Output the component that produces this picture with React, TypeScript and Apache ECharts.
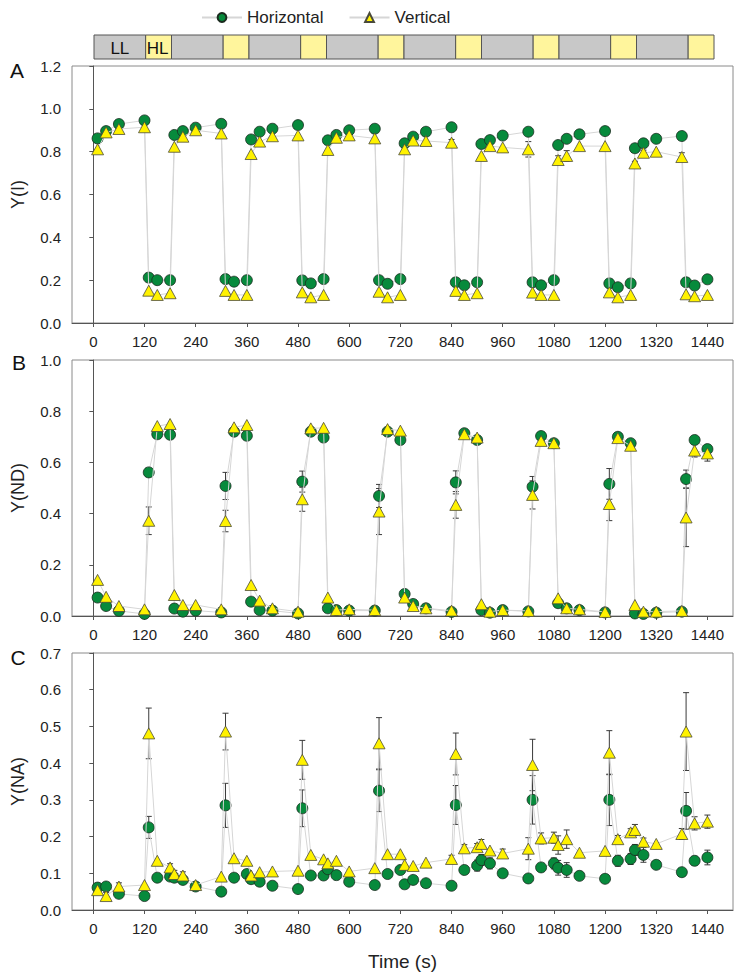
import React, { useEffect, useRef } from 'react';
import * as echarts from 'echarts';

// ---------- data ----------
const times = [
  10, 30, 60, 120, 130, 150, 180,
  190, 210, 240, 300, 310, 330, 360,
  370, 390, 420, 480, 490, 510, 540,
  550, 570, 600, 660, 670, 690, 720,
  730, 750, 780, 840, 850, 870, 900,
  910, 930, 960, 1020, 1030, 1050, 1080,
  1090, 1110, 1140, 1200, 1210, 1230, 1260,
  1270, 1290, 1320, 1380, 1390, 1410, 1440,
];
const timeTicks = [0, 120, 240, 360, 480, 600, 720, 840, 960, 1080, 1200, 1320, 1440];

// Panel A: Y(I)
const yIHorizontal = [
  0.862, 0.896, 0.929, 0.946, 0.212, 0.2, 0.2,
  0.878, 0.896, 0.912, 0.93, 0.205, 0.193, 0.2,
  0.857, 0.893, 0.907, 0.924, 0.199, 0.185, 0.205,
  0.853, 0.878, 0.9, 0.907, 0.2, 0.183, 0.205,
  0.839, 0.87, 0.893, 0.914, 0.19, 0.176, 0.19,
  0.836, 0.854, 0.875, 0.893, 0.19, 0.176, 0.2,
  0.831, 0.86, 0.881, 0.896, 0.185, 0.167, 0.185,
  0.816, 0.839, 0.86, 0.873, 0.19, 0.175, 0.204,
];
const yIVertical = [
  0.811, 0.89, 0.906, 0.914, 0.151, 0.131, 0.139,
  0.823, 0.87, 0.9, 0.885, 0.15, 0.131, 0.131,
  0.789, 0.847, 0.872, 0.876, 0.143, 0.12, 0.131,
  0.808, 0.865, 0.876, 0.862, 0.146, 0.12, 0.131,
  0.811, 0.852, 0.85, 0.842, 0.15, 0.131, 0.139,
  0.78, 0.826, 0.82, 0.811, 0.142, 0.131, 0.131,
  0.761, 0.78, 0.826, 0.826, 0.143, 0.12, 0.131,
  0.745, 0.795, 0.8, 0.775, 0.134, 0.125, 0.131,
];
const yIHorizontalErr = [
  0, 0, 0, 0, 0, 0, 0,
  0, 0, 0, 0, 0, 0, 0,
  0, 0, 0, 0, 0, 0, 0,
  0, 0, 0, 0, 0, 0, 0,
  0, 0, 0, 0, 0, 0, 0,
  0, 0, 0, 0, 0, 0, 0,
  0, 0.01, 0, 0, 0, 0, 0,
  0.015, 0.015, 0.01, 0, 0, 0, 0,
];
const yIVerticalErr = [
  0, 0, 0, 0, 0, 0, 0,
  0, 0, 0, 0, 0, 0, 0,
  0, 0, 0, 0, 0, 0, 0,
  0, 0, 0, 0, 0, 0, 0,
  0, 0, 0, 0.015, 0, 0, 0,
  0, 0.01, 0, 0.036, 0, 0, 0,
  0.02, 0.025, 0, 0, 0, 0, 0,
  0.01, 0.012, 0, 0.02, 0, 0, 0,
];

// Panel B: Y(ND)
const yNDHorizontal = [
  0.072, 0.039, 0.02, 0.008, 0.561, 0.71, 0.708,
  0.029, 0.017, 0.021, 0.014, 0.508, 0.72, 0.704,
  0.056, 0.023, 0.021, 0.01, 0.525, 0.72, 0.697,
  0.03, 0.023, 0.021, 0.021, 0.469, 0.72, 0.6875,
  0.086, 0.047, 0.03, 0.016, 0.522, 0.714, 0.6875,
  0.023, 0.013, 0.023, 0.018, 0.505, 0.703, 0.675,
  0.05, 0.03, 0.023, 0.014, 0.516, 0.7, 0.675,
  0.01, 0.008, 0.013, 0.017, 0.535, 0.6875, 0.652,
];
const yNDVertical = [
  0.141, 0.075, 0.039, 0.026, 0.372, 0.742, 0.75,
  0.082, 0.043, 0.043, 0.026, 0.371, 0.737, 0.746,
  0.121, 0.06, 0.03, 0.017, 0.456, 0.733, 0.735,
  0.072, 0.023, 0.026, 0.023, 0.408, 0.73, 0.724,
  0.072, 0.039, 0.03, 0.021, 0.434, 0.71, 0.697,
  0.046, 0.017, 0.023, 0.02, 0.473, 0.684, 0.675,
  0.069, 0.03, 0.026, 0.016, 0.4375, 0.695, 0.665,
  0.043, 0.017, 0.017, 0.02, 0.385, 0.646, 0.635,
];
const yNDHorizontalErr = [
  0, 0, 0, 0, 0.012, 0, 0,
  0, 0, 0, 0, 0.053, 0, 0,
  0, 0, 0, 0, 0.041, 0, 0,
  0, 0, 0, 0, 0.045, 0, 0,
  0, 0, 0, 0, 0.045, 0, 0,
  0, 0, 0, 0, 0.04, 0, 0,
  0, 0, 0, 0, 0.06, 0, 0,
  0, 0, 0, 0, 0.035, 0, 0.015,
];
const yNDVerticalErr = [
  0, 0, 0, 0, 0.054, 0, 0,
  0, 0, 0, 0, 0.042, 0, 0,
  0, 0, 0, 0, 0.047, 0, 0,
  0, 0, 0, 0, 0.09, 0, 0,
  0, 0, 0, 0, 0.052, 0, 0,
  0, 0, 0, 0, 0.055, 0, 0,
  0, 0, 0, 0, 0.065, 0, 0.015,
  0, 0, 0, 0, 0.114, 0.025, 0.03,
];

// Panel C: Y(NA)
const yNAHorizontal = [
  0.061, 0.064, 0.044, 0.038, 0.225, 0.088, 0.091,
  0.088, 0.082, 0.064, 0.05, 0.285, 0.088, 0.098,
  0.084, 0.077, 0.066, 0.057, 0.277, 0.094, 0.094,
  0.111, 0.095, 0.077, 0.068, 0.325, 0.098, 0.109,
  0.07, 0.082, 0.073, 0.066, 0.286, 0.109, 0.121,
  0.136, 0.127, 0.1, 0.086, 0.3, 0.116, 0.127,
  0.115, 0.109, 0.093, 0.085, 0.3, 0.134, 0.139,
  0.1635, 0.15, 0.123, 0.103, 0.27, 0.134, 0.143,
];
const yNAVertical = [
  0.054, 0.038, 0.064, 0.068, 0.481, 0.134, 0.116,
  0.098, 0.094, 0.068, 0.091, 0.486, 0.141, 0.134,
  0.094, 0.103, 0.105, 0.107, 0.409, 0.15, 0.138,
  0.127, 0.134, 0.105, 0.114, 0.454, 0.152, 0.152,
  0.123, 0.12, 0.129, 0.139, 0.425, 0.168, 0.171,
  0.18, 0.162, 0.154, 0.167, 0.395, 0.195, 0.197,
  0.177, 0.193, 0.156, 0.161, 0.4285, 0.193, 0.2115,
  0.218, 0.186, 0.18, 0.207, 0.486, 0.236, 0.2406,
];
const yNAHorizontalErr = [
  0, 0, 0, 0, 0.03, 0, 0,
  0, 0, 0, 0, 0.06, 0, 0,
  0, 0, 0, 0, 0.05, 0, 0,
  0, 0, 0, 0, 0.057, 0, 0,
  0, 0.01, 0, 0, 0.053, 0, 0.015,
  0.015, 0.015, 0, 0, 0.066, 0, 0.015,
  0.02, 0.02, 0.01, 0, 0.07, 0.015, 0.015,
  0.015, 0.02, 0.01, 0.01, 0.05, 0.012, 0.02,
];
const yNAVerticalErr = [
  0.01, 0.01, 0.01, 0, 0.069, 0, 0.01,
  0.01, 0.01, 0, 0, 0.05, 0, 0,
  0, 0, 0, 0, 0.053, 0, 0,
  0, 0, 0, 0, 0.07, 0, 0,
  0, 0, 0, 0.01, 0.057, 0.01, 0.01,
  0.012, 0, 0.012, 0.03, 0.07, 0.015, 0.015,
  0.025, 0.025, 0, 0, 0.06, 0.01, 0.01,
  0.015, 0.01, 0, 0.015, 0.106, 0.018, 0.018,
];

// Light regime bar
const phaseKinds = ['LL', 'HL', 'LL', 'HL', 'LL', 'HL', 'LL', 'HL', 'LL', 'HL', 'LL', 'HL', 'LL', 'HL', 'LL', 'HL'];
const phaseDurations = [120, 60, 120, 60, 120, 60, 120, 60, 120, 60, 120, 60, 120, 60, 120, 60];

const panelLetters = ['A', 'B', 'C'];
const yNames = ['Y(I)', 'Y(ND)', 'Y(NA)'];
const yMax = [1.2, 1.0, 0.7];
const yStep = [0.2, 0.2, 0.1];
const seriesNames = ['Horizontal', 'Vertical'];

const FONT = "'Liberation Sans', Arial, sans-serif";
const GREEN = '#078a3c';
const YELLOW = '#fff200';

export default function App() {
  const ref = useRef<HTMLDivElement>(null);
  useEffect(() => {
    if (!ref.current) return;
    const chart = echarts.init(ref.current, null, { renderer: 'svg' });

    const grids = [
      { left: 72, right: 8, top: 66, height: 257 },
      { left: 72, right: 8, top: 360, height: 256 },
      { left: 72, right: 8, top: 653, height: 257 },
    ];

    const panels = [
      { h: yIHorizontal, v: yIVertical, he: yIHorizontalErr, ve: yIVerticalErr },
      { h: yNDHorizontal, v: yNDVertical, he: yNDHorizontalErr, ve: yNDVerticalErr },
      { h: yNAHorizontal, v: yNAVertical, he: yNAHorizontalErr, ve: yNAVerticalErr },
    ];

    const errRender = (params: any, api: any) => {
      const x = api.value(0);
      const y = api.value(1);
      const e = api.value(2);
      const top = api.coord([x, y + e]);
      const bot = api.coord([x, y - e]);
      const w = 3;
      const style = { stroke: '#3a3a3a', lineWidth: 1 };
      return {
        type: 'group',
        children: [
          { type: 'line', shape: { x1: top[0], y1: top[1], x2: bot[0], y2: bot[1] }, style },
          { type: 'line', shape: { x1: top[0] - w, y1: top[1], x2: top[0] + w, y2: top[1] }, style },
          { type: 'line', shape: { x1: bot[0] - w, y1: bot[1], x2: bot[0] + w, y2: bot[1] }, style },
        ],
      };
    };

    const series: any[] = [];
    panels.forEach((p, i) => {
      const errData = (vals: number[], errs: number[]) =>
        times.map((t, k) => [t, vals[k], errs[k]]).filter((d) => d[2] > 0);
      series.push({
        type: 'custom',
        name: 'errH' + i,
        xAxisIndex: i,
        yAxisIndex: i,
        z: 1,
        renderItem: errRender,
        encode: { x: 0, y: 1 },
        data: errData(p.h, p.he),
      });
      series.push({
        type: 'custom',
        name: 'errV' + i,
        xAxisIndex: i,
        yAxisIndex: i,
        z: 1,
        renderItem: errRender,
        encode: { x: 0, y: 1 },
        data: errData(p.v, p.ve),
      });
      series.push({
        type: 'line',
        name: seriesNames[0],
        xAxisIndex: i,
        yAxisIndex: i,
        z: 2,
        symbol: 'circle',
        symbolSize: 11,
        itemStyle: { color: GREEN, borderColor: '#1b2b1f', borderWidth: 0.8 },
        lineStyle: { color: '#d6d6d6', width: 1 },
        data: times.map((t, k) => [t, p.h[k]]),
      });
      series.push({
        type: 'line',
        name: seriesNames[1],
        xAxisIndex: i,
        yAxisIndex: i,
        z: 3,
        symbol: 'triangle',
        symbolSize: [12, 11],
        itemStyle: { color: YELLOW, borderColor: '#4a4a3a', borderWidth: 0.8 },
        lineStyle: { color: '#d6d6d6', width: 1 },
        data: times.map((t, k) => [t, p.v[k]]),
      });
    });

    // top bar graphics
    const barLeft = 94;
    const barRight = 714;
    const barTop = 35;
    const barH = 24;
    const total = phaseDurations.reduce((a, b) => a + b, 0);
    const pxPerS = (barRight - barLeft) / total;
    const barEls: any[] = [];
    let acc = 0;
    phaseKinds.forEach((kind, k) => {
      const x0 = barLeft + acc * pxPerS;
      const w = phaseDurations[k] * pxPerS;
      acc += phaseDurations[k];
      barEls.push({
        type: 'rect',
        shape: { x: x0, y: barTop, width: w, height: barH },
        style: { fill: kind === 'LL' ? '#c8c8c8' : '#fff59c', stroke: '#555', lineWidth: 1 },
      });
      if (k === 0) {
        barEls.push({
          type: 'text',
          x: x0 + w / 2,
          y: barTop + barH / 2 + 1,
          style: { text: kind, fontSize: 17, fontFamily: FONT, fill: '#111', align: 'center', verticalAlign: 'middle' },
        });
      } else if (k === 1) {
        barEls.push({
          type: 'text',
          x: x0 + 1,
          y: barTop + barH / 2 + 1,
          style: { text: kind, fontSize: 17, fontFamily: FONT, fill: '#111', align: 'left', verticalAlign: 'middle' },
        });
      }
    });

    const letterPos = [
      [17, 70],
      [19, 362],
      [18, 657],
    ];
    const letterEls = panelLetters.map((L, i) => ({
      type: 'text',
      x: letterPos[i][0],
      y: letterPos[i][1],
      style: { text: L, fontSize: 21, fontFamily: FONT, fill: '#111', align: 'center', verticalAlign: 'middle' },
    }));

    const option: any = {
      animation: false,
      backgroundColor: '#ffffff',
      legend: {
        data: seriesNames,
        top: 4,
        left: 196,
        itemWidth: 40,
        itemHeight: 11,
        itemGap: 25,
        textStyle: { fontSize: 17, fontFamily: FONT, color: '#222' },
      },
      grid: grids.map((g) => ({ ...g, show: true, borderColor: '#8a8a8a', borderWidth: 1, backgroundColor: 'transparent' })),
      xAxis: grids.map((g, i) => ({
        type: 'value',
        gridIndex: i,
        min: -50,
        max: 1500,
        axisLine: { show: true, onZero: false, lineStyle: { color: '#555', width: 1 } },
        axisTick: { show: true, customValues: timeTicks, length: 4, lineStyle: { color: '#555' } },
        axisLabel: {
          customValues: timeTicks,
          fontSize: 15,
          fontFamily: FONT,
          color: '#222',
          margin: 11,
          formatter: (v: number) => String(v),
        },
        splitLine: { show: false },
        name: i === 2 ? 'Time (s)' : '',
        nameLocation: 'middle',
        nameGap: 42,
        nameTextStyle: { fontSize: 19, fontFamily: FONT, color: '#222' },
      })),
      yAxis: grids.map((g, i) => ({
        type: 'value',
        gridIndex: i,
        min: 0,
        max: yMax[i],
        interval: yStep[i],
        axisLine: { show: true, lineStyle: { color: '#555', width: 1 } },
        axisTick: { show: true, length: 4, lineStyle: { color: '#555' } },
        axisLabel: {
          fontSize: 15,
          fontFamily: FONT,
          color: '#222',
          margin: 11,
          formatter: (v: number) => v.toFixed(1),
        },
        splitLine: { show: false },
        name: yNames[i],
        nameLocation: 'middle',
        nameGap: 45,
        nameTextStyle: { fontSize: 18, fontFamily: FONT, color: '#222' },
      })),
      graphic: [...barEls, ...letterEls],
      series,
    };
    chart.setOption(option);
    return () => chart.dispose();
  }, []);
  return (
    <div
      ref={ref}
      style={{ position: 'absolute', left: 0, top: 0, width: 741, height: 979, background: '#fff' }}
    />
  );
}
